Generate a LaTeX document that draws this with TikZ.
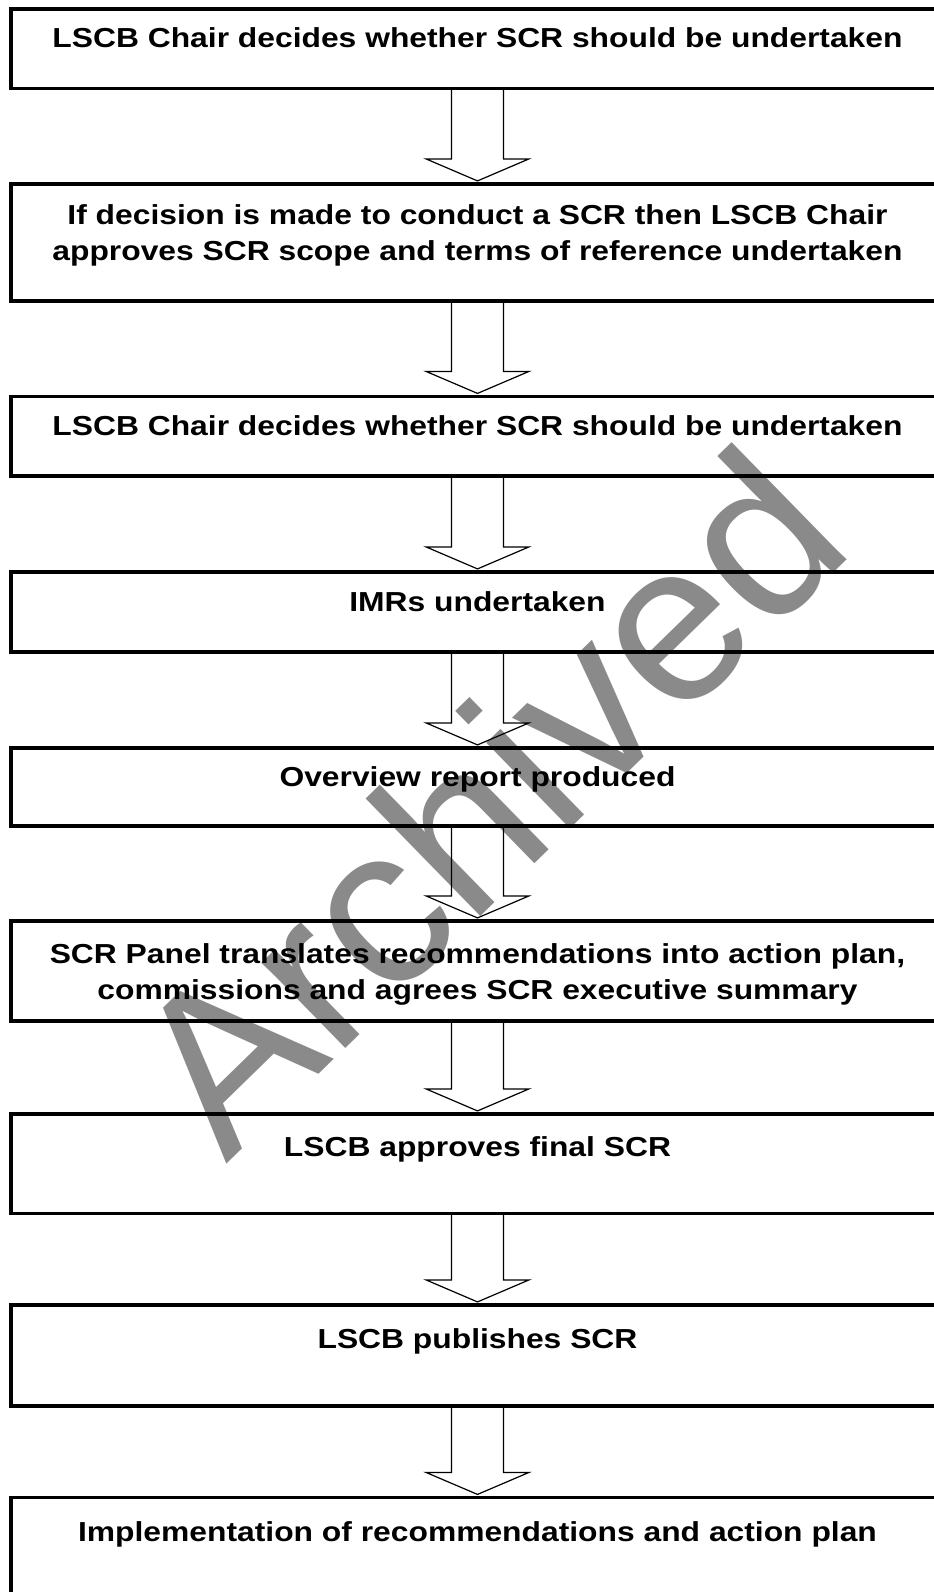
\documentclass[tikz,border=0pt]{standalone}
\usepackage{fontspec}
\setmainfont{Liberation Sans}
\newfontfamily\boxfont[FakeStretch=1.158]{Liberation Sans Bold}
\newfontfamily\wmfont{Liberation Sans}
\usetikzlibrary{calc,fit}
\definecolor{wmgray}{RGB}{138,138,138}
\tikzset{
  stepbox/.style={draw=black, line width=2.4pt, inner sep=0pt},
  steptext/.style={anchor=base, inner sep=0pt, font=\boxfont\fontsize{20.6pt}{27.6pt}\selectfont},
  flowarrow/.style={draw=black, line width=0.9pt, line join=miter},
  watermark/.style={text=wmgray, inner sep=0pt, font=\wmfont\fontsize{170pt}{170pt}\selectfont},
}
\newcommand\flowarr[2]{%
  \draw[flowarrow] ($(#1.south)+(-26,0)$) -- ($(#2.north)+(-26,-23.5)$)
    -- ($(#2.north)+(-51.5,-23.5)$) -- ($(#2.north)+(0,-1.5)$)
    -- ($(#2.north)+(51.5,-23.5)$) -- ($(#2.north)+(26,-23.5)$)
    -- ($(#1.south)+(26,0)$);}
\begin{document}
\begin{tikzpicture}[x=0.75pt,y=-0.75pt]
\useasboundingbox (0,0) rectangle (934,1592);
\clip (0,0) rectangle (934,1592);
\node[watermark, rotate=44.3, anchor=base west] (wm) at (226,1165) {Archived};

\node[stepbox, fit={(11,9)(944,88.5)}] (b1) {};
\node[stepbox, fit={(11,184)(944,301)}] (b2) {};
\node[stepbox, fit={(11,396.5)(944,476)}] (b3) {};
\node[stepbox, fit={(11,572)(944,652)}] (b4) {};
\node[stepbox, fit={(11,748)(944,826)}] (b5) {};
\node[stepbox, fit={(11,921)(944,1021)}] (b6) {};
\node[stepbox, fit={(11,1114)(944,1213.5)}] (b7) {};
\node[stepbox, fit={(11,1305)(944,1406)}] (b8) {};
\node[stepbox, fit={(11,1497.5)(944,1620)}] (b9) {};

\node[steptext] (t1) at (477.5,47) {LSCB Chair decides whether SCR should be undertaken};
\node[steptext] (t2) at (477.5,224) {\begin{tabular}[t]{@{}c@{}}If decision is made to conduct a SCR then LSCB Chair\\approves SCR scope and terms of reference undertaken\end{tabular}};
\node[steptext] (t3) at (477.5,435) {LSCB Chair decides whether SCR should be undertaken};
\node[steptext] (t4) at (477.5,611) {IMRs undertaken};
\node[steptext] (t5) at (477.5,786) {Overview report produced};
\node[steptext] (t6) at (477.5,963) {\begin{tabular}[t]{@{}c@{}}SCR Panel translates recommendations into action plan,\\commissions and agrees SCR executive summary\end{tabular}};
\node[steptext] (t7) at (477.5,1156) {LSCB approves final SCR};
\node[steptext] (t8) at (477.5,1348) {LSCB publishes SCR};
\node[steptext] (t9) at (477.5,1541) {Implementation of recommendations and action plan};

\flowarr{b1}{b2}
\flowarr{b2}{b3}
\flowarr{b3}{b4}
\flowarr{b4}{b5}
\flowarr{b5}{b6}
\flowarr{b6}{b7}
\flowarr{b7}{b8}
\flowarr{b8}{b9}
\end{tikzpicture}
\end{document}
